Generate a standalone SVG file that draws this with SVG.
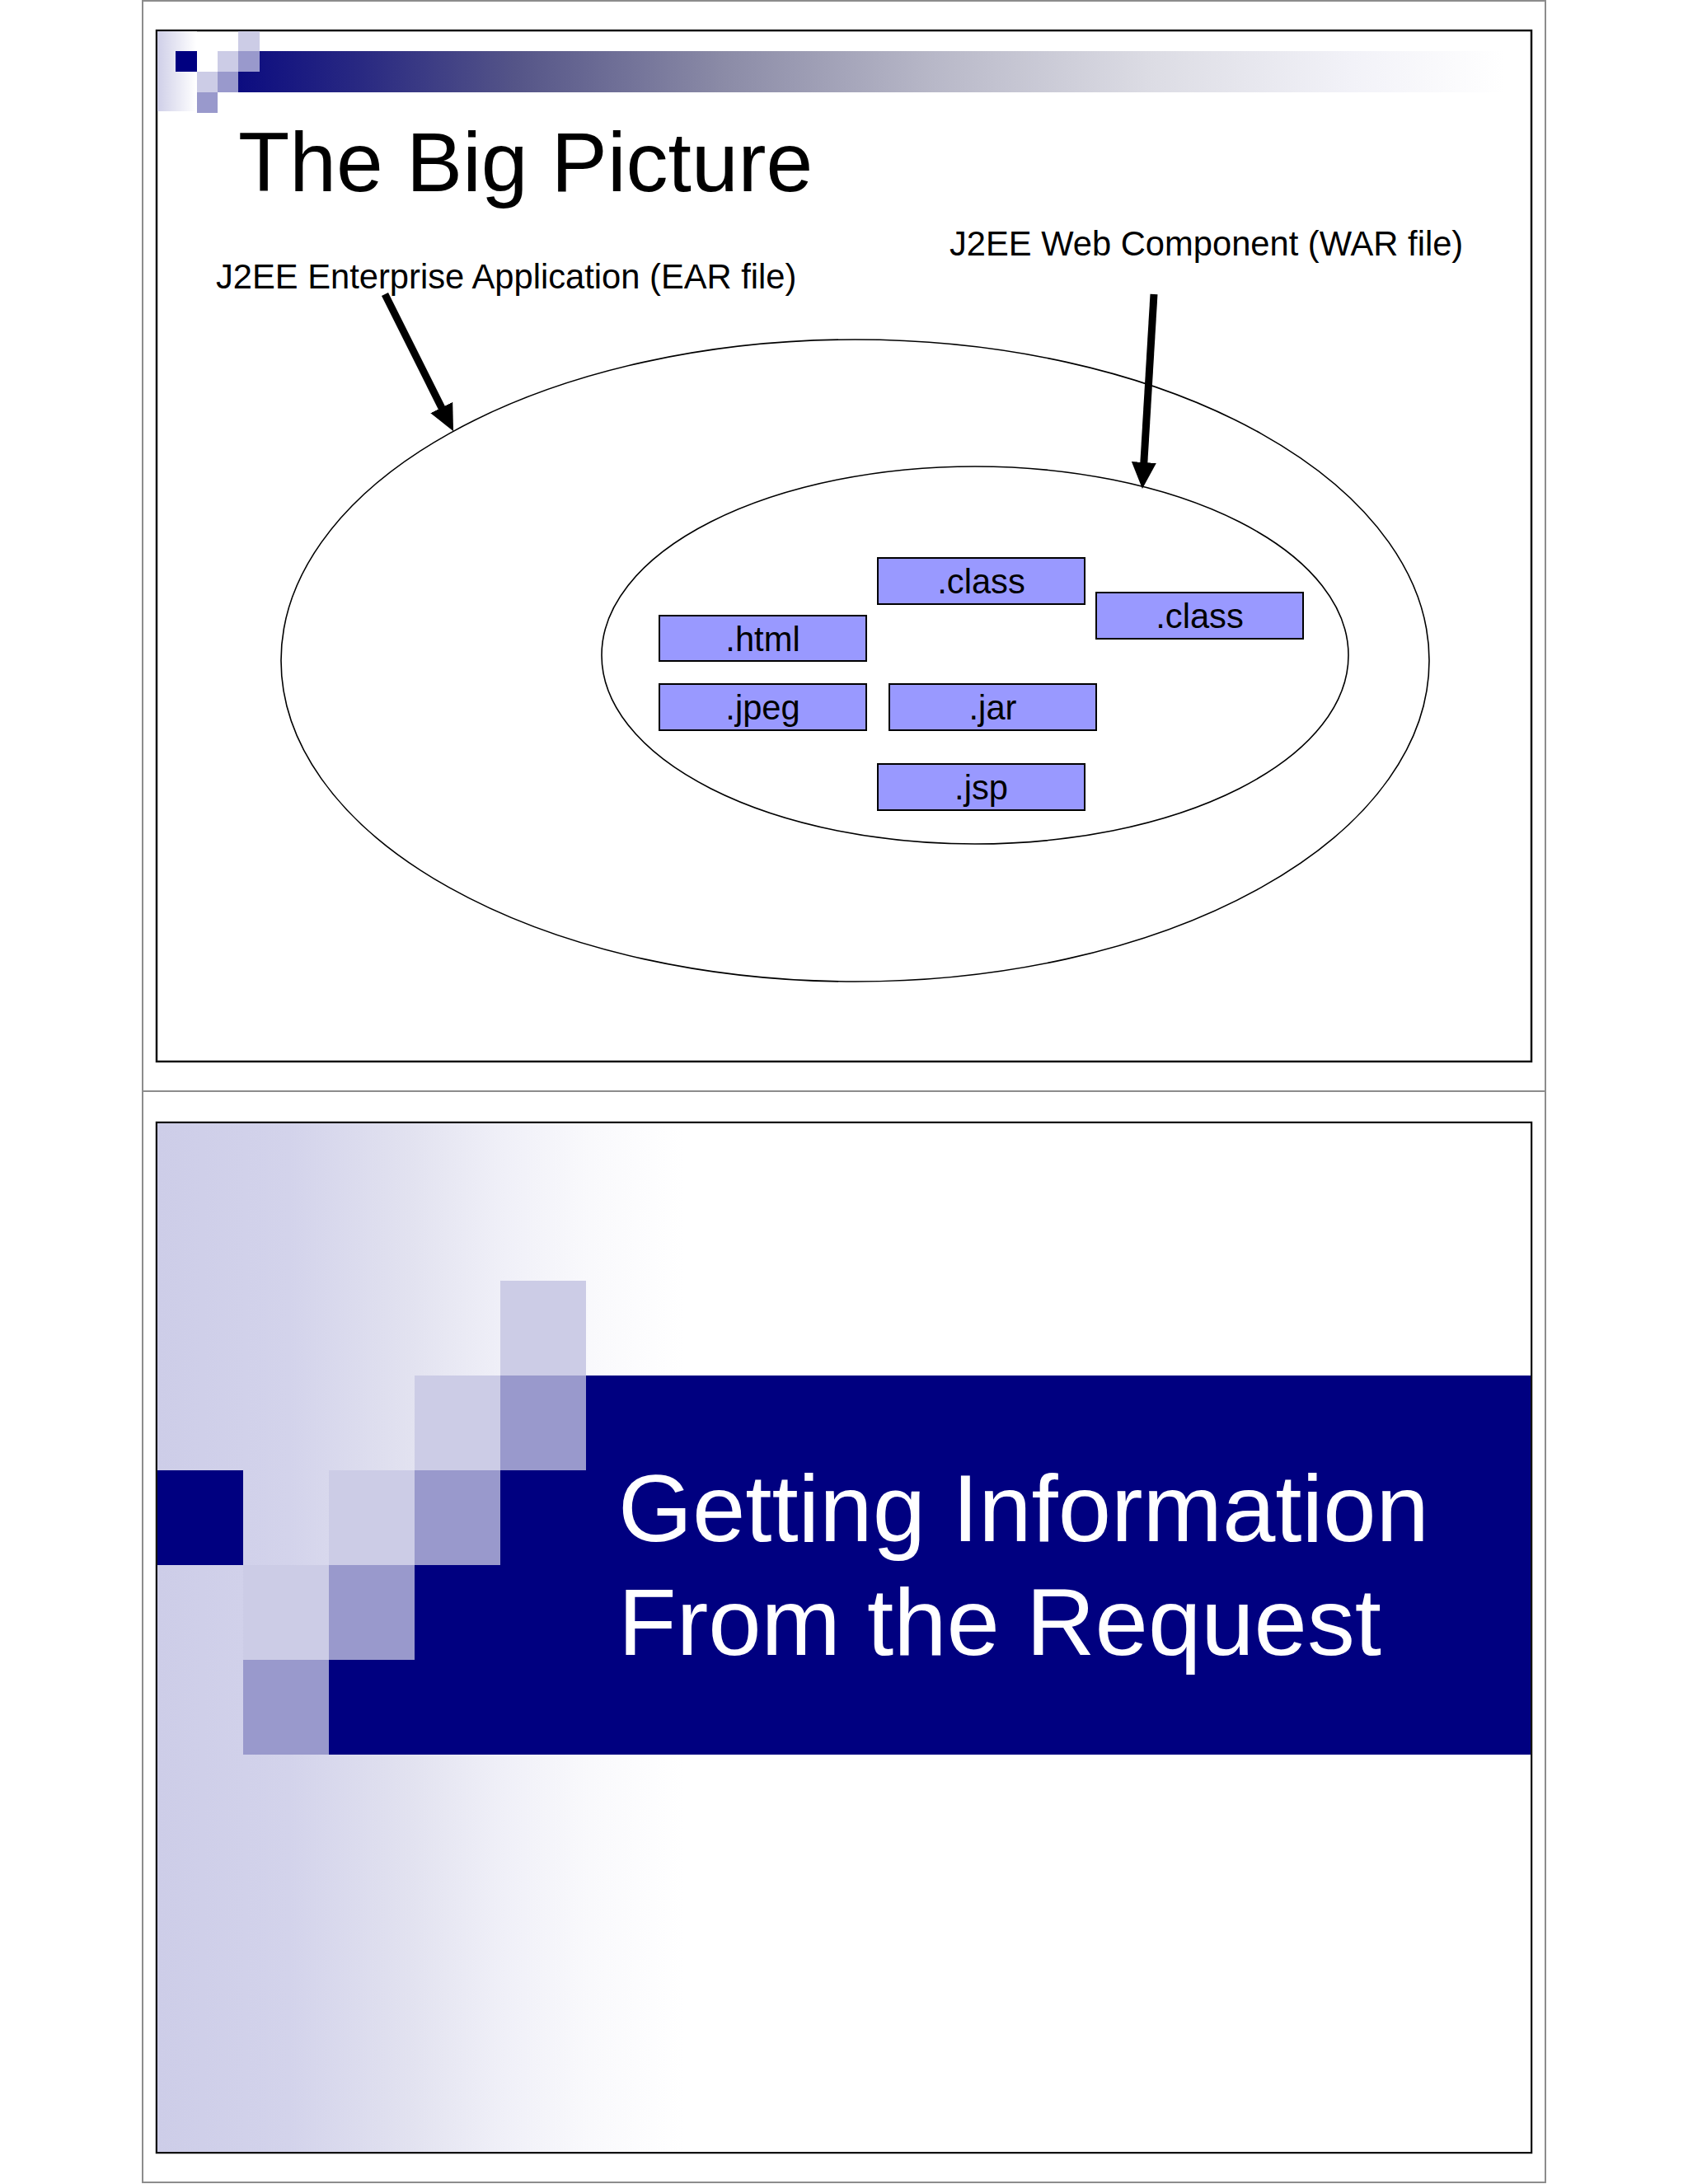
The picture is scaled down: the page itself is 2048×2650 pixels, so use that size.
<svg xmlns="http://www.w3.org/2000/svg" width="2048" height="2650" viewBox="0 0 2048 2650">
  <style>
    .page { fill: none; stroke: #8c8c8c; stroke-width: 2; }
    .frame { fill: #ffffff; stroke: #111111; stroke-width: 2.5; }
    .lite { fill: #ccccE6; }
    .mid { fill: #9999cc; }
    .navy { fill: #000080; }
    .ell { fill: none; stroke: #000000; stroke-width: 1.6; }
    .box { fill: #9999ff; stroke: #000000; stroke-width: 2; }
    .lbl { font-family: "Liberation Sans", Arial, sans-serif; font-size: 41.7px; fill: #000000; }
    .boxt { font-family: "Liberation Sans", Arial, sans-serif; font-size: 41.7px; fill: #000000; text-anchor: middle; }
    .title { font-family: "Liberation Sans", Arial, sans-serif; font-size: 102px; fill: #000000; }
    .title2 { font-family: "Liberation Sans", Arial, sans-serif; font-size: 115.7px; fill: #ffffff; }
    .arr { stroke: #000000; stroke-width: 9; fill: none; }
  </style>
  <defs>
    <linearGradient id="barGrad" gradientUnits="userSpaceOnUse" x1="289" y1="0" x2="1825" y2="0">
      <stop offset="0" stop-color="#0c0c80"/>
      <stop offset="0.1" stop-color="#2a2a82"/>
      <stop offset="0.22" stop-color="#555588"/>
      <stop offset="0.38" stop-color="#8a8aa6"/>
      <stop offset="0.55" stop-color="#b8b8c8"/>
      <stop offset="0.72" stop-color="#dcdce4"/>
      <stop offset="0.88" stop-color="#f2f2f8"/>
      <stop offset="1" stop-color="#ffffff"/>
    </linearGradient>
    <linearGradient id="sideGrad1" gradientUnits="userSpaceOnUse" x1="191" y1="0" x2="238" y2="0">
      <stop offset="0" stop-color="#cfcfe8"/>
      <stop offset="1" stop-color="#ffffff"/>
    </linearGradient>
    <linearGradient id="sideGrad2" gradientUnits="userSpaceOnUse" x1="191" y1="0" x2="830" y2="0">
      <stop offset="0" stop-color="#cdcde8"/>
      <stop offset="0.25" stop-color="#d3d3eb"/>
      <stop offset="0.48" stop-color="#e2e2f0"/>
      <stop offset="0.66" stop-color="#f0f0f8"/>
      <stop offset="0.82" stop-color="#f9f9fc"/>
      <stop offset="1" stop-color="#ffffff"/>
    </linearGradient>
    <marker id="head" markerUnits="userSpaceOnUse" markerWidth="34" markerHeight="32" refX="1" refY="15" orient="auto">
      <path d="M0,0 L32,15 L0,30 z" fill="#000000"/>
    </marker>
  </defs>

  <rect x="0" y="0" width="2048" height="2650" fill="#ffffff"/>

  <!-- page border -->
  <g id="page">
    <rect class="page" x="173" y="1" width="1702" height="2647"/>
    <line class="page" x1="173" y1="1324" x2="1875" y2="1324"/>
  </g>

  <!-- Slide 1 -->
  <g id="slide1">
    <rect class="frame" x="190" y="37" width="1668" height="1251"/>
    <g id="slide1-header">
      <rect x="191" y="38" width="48" height="97" fill="url(#sideGrad1)"/>
      <polygon points="315,62 1825,62 1825,112 289,112 289,87 315,87" fill="url(#barGrad)"/>
      <rect class="navy" x="213" y="62" width="26" height="25"/>
      <rect class="lite" x="289" y="38" width="26" height="24"/>
      <rect class="lite" x="264" y="62" width="25" height="25"/>
      <rect class="mid" x="289" y="62" width="26" height="25"/>
      <rect class="lite" x="239" y="87" width="25" height="25"/>
      <rect class="mid" x="264" y="87" width="25" height="25"/>
      <rect class="mid" x="239" y="112" width="25" height="25"/>
    </g>
    <text id="title1" class="title" x="289" y="232">The Big Picture</text>
  </g>

  <g id="ear">
    <ellipse class="ell" cx="1037.5" cy="801.5" rx="696.5" ry="389.5"/>
    <text class="lbl" x="262" y="350">J2EE Enterprise Application (EAR file)</text>
  </g>
  <g id="war">
    <ellipse class="ell" cx="1183" cy="795" rx="453" ry="229"/>
    <text class="lbl" x="1152" y="310">J2EE Web Component (WAR file)</text>
  </g>

  <g id="box-class1">
    <rect class="box" x="1065" y="677" width="251" height="56"/>
    <text class="boxt" x="1190.5" y="720">.class</text>
  </g>
  <g id="box-class2">
    <rect class="box" x="1330" y="719" width="251" height="56"/>
    <text class="boxt" x="1455.5" y="762">.class</text>
  </g>
  <g id="box-html">
    <rect class="box" x="800" y="747" width="251" height="55"/>
    <text class="boxt" x="925.5" y="790">.html</text>
  </g>
  <g id="box-jpeg">
    <rect class="box" x="800" y="830" width="251" height="56"/>
    <text class="boxt" x="925.5" y="873">.jpeg</text>
  </g>
  <g id="box-jar">
    <rect class="box" x="1079" y="830" width="251" height="56"/>
    <text class="boxt" x="1204.5" y="873">.jar</text>
  </g>
  <g id="box-jsp">
    <rect class="box" x="1065" y="927" width="251" height="56"/>
    <text class="boxt" x="1190.5" y="970">.jsp</text>
  </g>

  <g id="connectors">
    <line class="arr" x1="467" y1="357" x2="536.2" y2="495.4" marker-end="url(#head)"/>
    <line class="arr" x1="1400" y1="357" x2="1387.8" y2="562" marker-end="url(#head)"/>
  </g>

  <!-- Slide 2 -->
  <g id="slide2">
    <rect class="frame" x="190" y="1362" width="1668" height="1250"/>
    <rect x="191" y="1363" width="1666" height="1248" fill="url(#sideGrad2)"/>
    <polygon class="navy" points="711,1669 1857,1669 1857,2129 399,2129 399,2014 503,2014 503,1899 607,1899 607,1784 711,1784"/>
    <rect class="navy" x="191" y="1784" width="104" height="115"/>
    <rect class="lite" x="607" y="1554" width="104" height="115"/>
    <rect class="lite" x="503" y="1669" width="104" height="115"/>
    <rect class="mid" x="607" y="1669" width="104" height="115"/>
    <rect class="lite" x="399" y="1784" width="104" height="115"/>
    <rect class="mid" x="503" y="1784" width="104" height="115"/>
    <rect class="lite" x="295" y="1899" width="104" height="115"/>
    <rect class="mid" x="399" y="1899" width="104" height="115"/>
    <rect class="mid" x="295" y="2014" width="104" height="115"/>
    <text class="title2" x="750" y="1870">Getting Information</text>
    <text class="title2" x="750" y="2008">From the Request</text>
  </g>
</svg>
